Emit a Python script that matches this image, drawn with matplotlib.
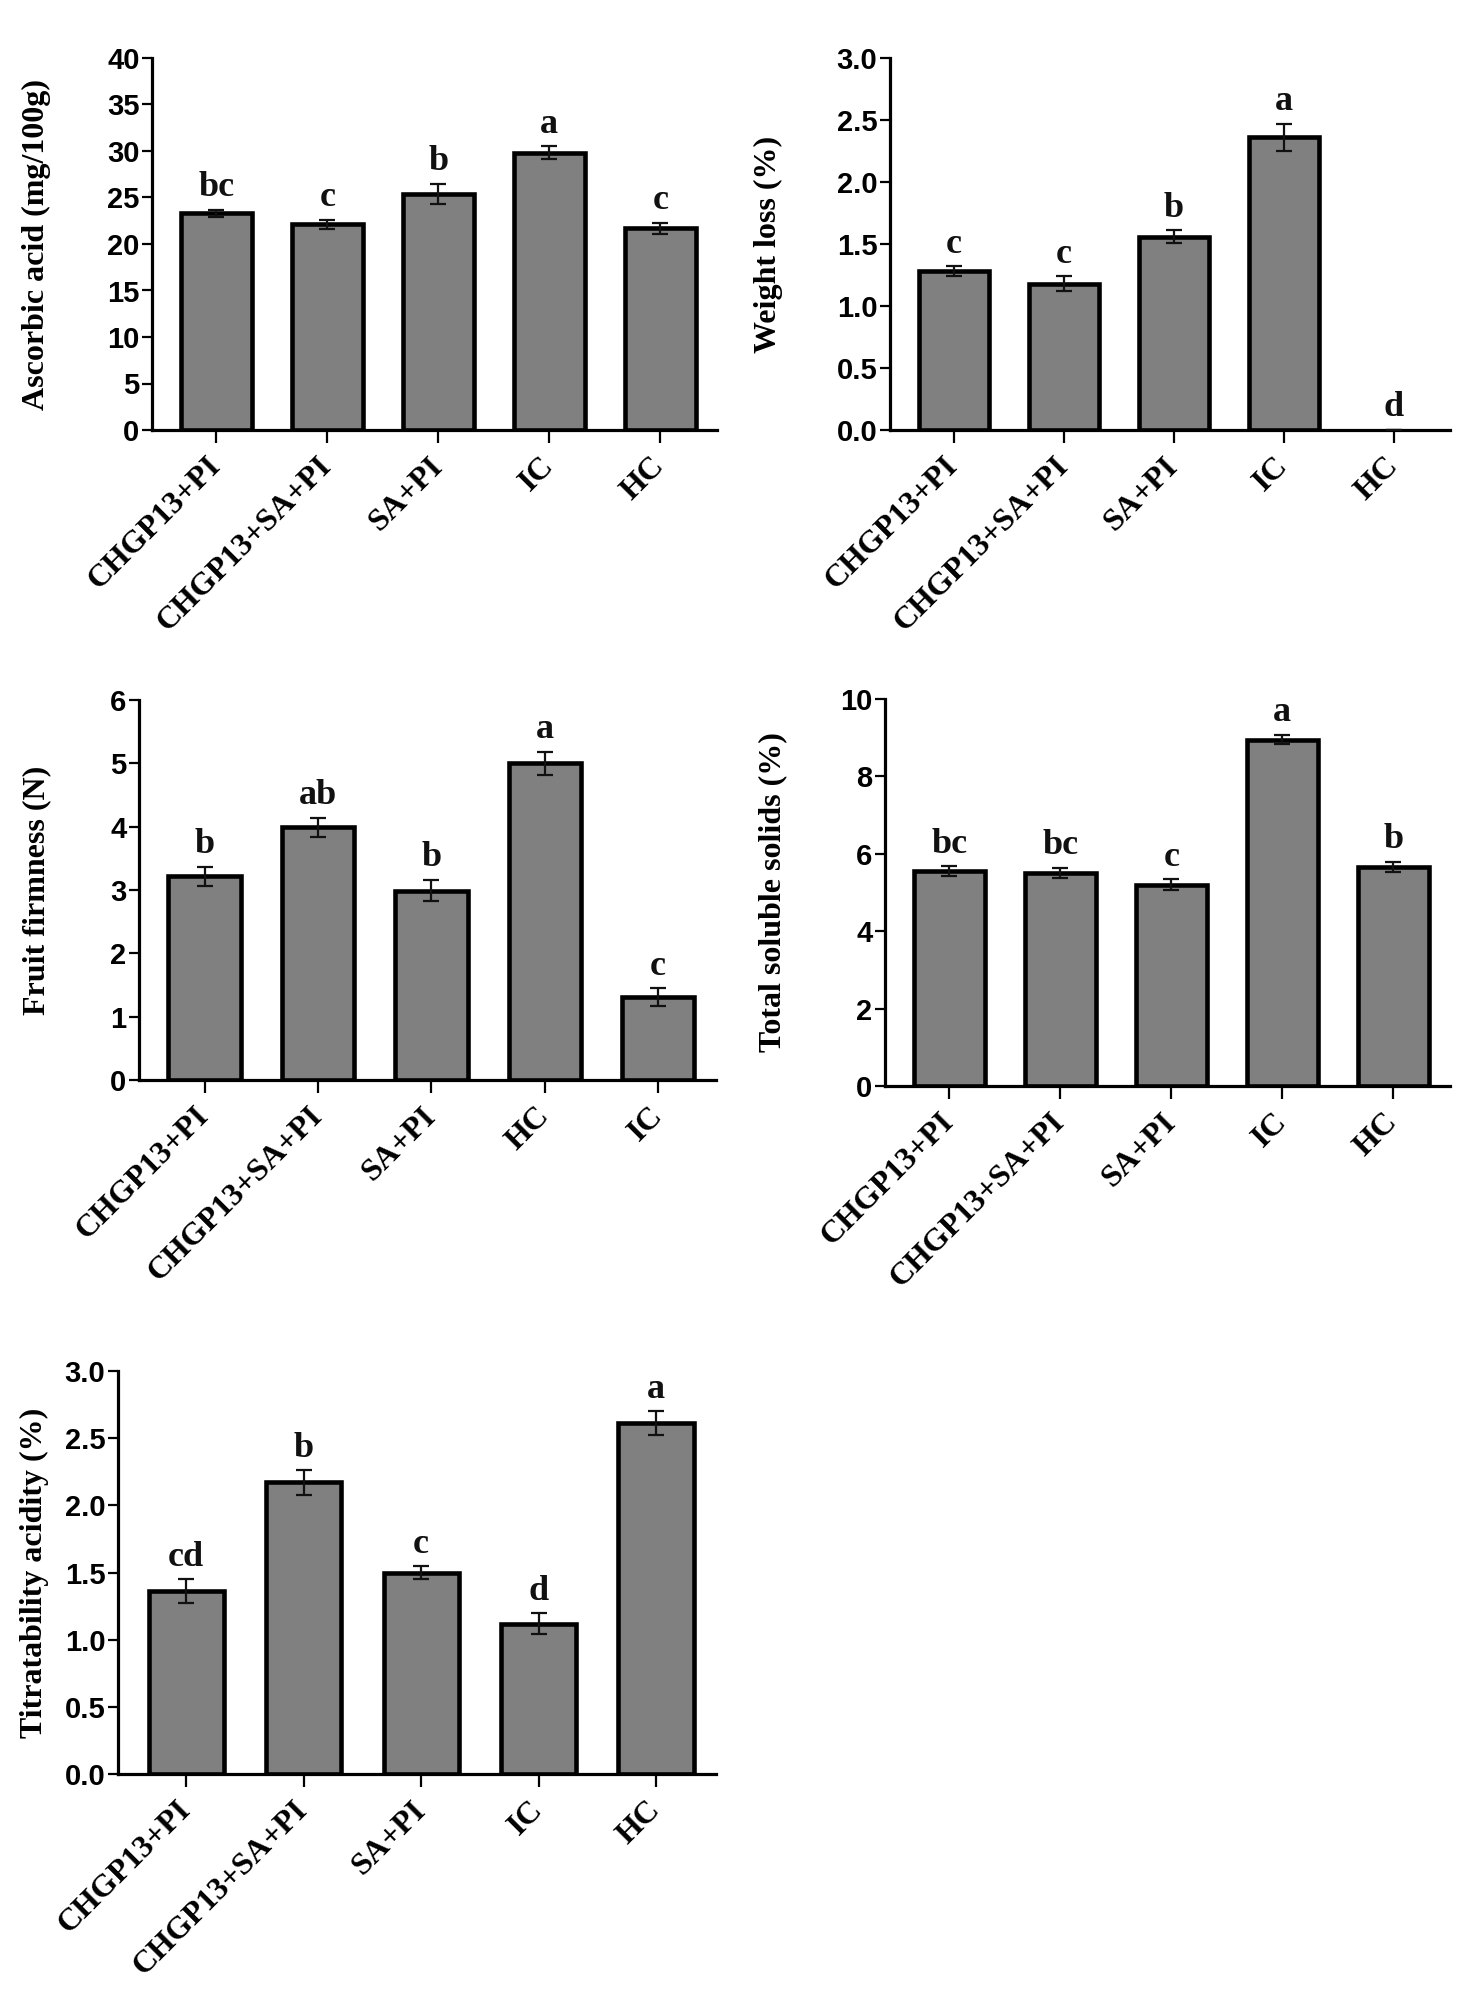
import matplotlib
matplotlib.use('agg')
import matplotlib.pyplot as plt
import numpy as np

# treatment order used on most panels, firmness panel swaps HC/IC
groups = ['CHGP13+PI', 'CHGP13+SA+PI', 'SA+PI', 'IC', 'HC']
groups_ff = ['CHGP13+PI', 'CHGP13+SA+PI', 'SA+PI', 'HC', 'IC']

asc_mean = [23.3, 22.1, 25.4, 29.8, 21.7]
asc_err = [0.4, 0.5, 1.05, 0.7, 0.6]
asc_let = ['bc', 'c', 'b', 'a', 'c']

wl_mean = [1.28, 1.18, 1.56, 2.36, 0.0]
wl_err = [0.04, 0.06, 0.05, 0.11, 0.0]
wl_let = ['c', 'c', 'b', 'a', 'd']

ff_mean = [3.22, 3.99, 2.99, 5.0, 1.31]
ff_err = [0.15, 0.15, 0.17, 0.18, 0.14]
ff_let = ['b', 'ab', 'b', 'a', 'c']

tss_mean = [5.55, 5.51, 5.2, 8.95, 5.67]
tss_err = [0.13, 0.13, 0.14, 0.12, 0.13]
tss_let = ['bc', 'bc', 'c', 'a', 'b']

ta_mean = [1.36, 2.17, 1.50, 1.12, 2.61]
ta_err = [0.09, 0.09, 0.045, 0.075, 0.09]
ta_let = ['cd', 'b', 'c', 'd', 'a']

W, H = 1476, 2002
SERIF = 'Liberation Serif'
SANS = 'Liberation Sans'


def plotPanel(fig, box, labx, cats, mean, err, lets, ylab, ymax, ystep, fmt):
    # box = left, top, right, bottom of the axes in pixels
    l, t, r, b = box
    ax = fig.add_axes([l / W, 1 - b / H, (r - l) / W, (b - t) / H])
    x = np.arange(len(cats))
    lw = [3.3 if m > 0 else 0 for m in mean]  # zero bar (HC weight loss) is not drawn
    ax.bar(x, mean, 0.64, color='#808080', edgecolor='black', linewidth=lw, zorder=2)
    ax.errorbar(x, mean, yerr=err, fmt='none', ecolor='#111111', elinewidth=1.6,
                capsize=6, capthick=1.6, zorder=3)
    for xi, m, e, s in zip(x, mean, err, lets):
        ax.annotate(s, xy=(xi, m + e), xytext=(0, 4), textcoords='offset points',
                    ha='center', va='bottom', fontsize=26, fontweight='bold',
                    family=SERIF, color='#111111')
    ax.set_xlim(-0.58, 4.51)
    ax.set_ylim(0, ymax)
    ax.set_yticks(np.arange(0, ymax + ystep / 2, ystep))
    ax.yaxis.set_major_formatter(matplotlib.ticker.FormatStrFormatter(fmt))
    ax.set_xticks(x)
    ax.set_xticklabels(cats, rotation=45, ha='right', va='center',
                       rotation_mode='anchor', fontsize=23, fontweight='bold', family=SERIF)
    for lab in ax.get_yticklabels():
        lab.set_fontsize(21)
        lab.set_fontweight('bold')
        lab.set_family(SANS)
    ax.spines['top'].set_visible(False)
    ax.spines['right'].set_visible(False)
    ax.spines['left'].set_linewidth(2.3)
    ax.spines['bottom'].set_linewidth(2.3)
    ax.tick_params(axis='y', length=7, width=1.6, pad=2)
    ax.tick_params(axis='x', length=9, width=1.6, pad=14)
    ax.set_ylabel(ylab, fontsize=23, fontweight='bold', family=SERIF)
    ax.yaxis.set_label_coords((labx - l) / (r - l), 0.5)
    ax.set_facecolor('none')
    return ax


fig = plt.figure(figsize=(W / 100, H / 100), dpi=100)
fig.patch.set_facecolor('white')

plotPanel(fig, (152, 58, 717, 430), 51, groups, asc_mean, asc_err, asc_let,
          'Ascorbic acid (mg/100g)', 40, 5, '%d')
plotPanel(fig, (890, 58, 1450, 430), 783, groups, wl_mean, wl_err, wl_let,
          'Weight loss (%)', 3.0, 0.5, '%.1f')
plotPanel(fig, (139, 700, 716, 1080), 51, groups_ff, ff_mean, ff_err, ff_let,
          'Fruit firmness (N)', 6, 1, '%d')
plotPanel(fig, (885, 699, 1450, 1086), 787, groups, tss_mean, tss_err, tss_let,
          'Total soluble solids (%)', 10, 2, '%d')
plotPanel(fig, (118, 1371, 716, 1774), 49, groups, ta_mean, ta_err, ta_let,
          'Titratability acidity (%)', 3.0, 0.5, '%.1f')

plt.savefig('out.png', dpi=100)
plt.close()
